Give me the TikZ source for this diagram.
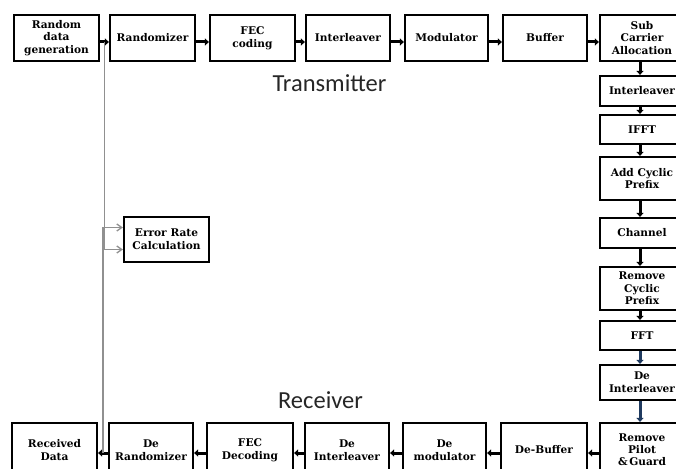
\documentclass[tikz,border=0pt]{standalone}
\usepackage{fontspec}
\setmainfont{DejaVu Serif}
\newfontfamily\labelfont{Carlito}
\usetikzlibrary{arrows.meta,calc}
\definecolor{navyarrow}{HTML}{1F3A5F}
\definecolor{grayline}{HTML}{909090}
\tikzset{
  blk/.style={draw=black, line width=2.2pt, fill=white, align=center, inner sep=1pt,
    font=\fontsize{10.6}{12.6}\selectfont\bfseries},
  flow/.style={line width=3pt, -{Triangle[length=4pt,width=7pt]}},
  navyflow/.style={flow, draw=navyarrow},
  errline/.style={draw=grayline, line width=1.3pt, -{Straight Barb[length=5pt,width=7pt]}},
  sectlabel/.style={font=\labelfont\fontsize{24.5}{26}\selectfont, text=black!85}
}
\newcommand{\bx}[6]{\node[blk, minimum width=#4pt, minimum height=#5pt] (#1) at (#2,#3) {#6};}
\begin{document}
\begin{tikzpicture}[x=1pt,y=-1pt]
\useasboundingbox (0,0) rectangle (676,468);
% top row
\bx{gen}{56.5}{38}{85}{46}{Random\\data\\generation}
\bx{rand}{152.5}{38}{85}{46}{Randomizer}
\bx{fec}{252.5}{38}{85}{46}{FEC\\coding}
\bx{intl}{348}{38}{84}{46}{Interleaver}
\bx{mod}{446.5}{38}{83}{46}{Modulator}
\bx{buf}{545}{38}{84}{46}{Buffer}
\bx{sca}{642}{38}{84}{46}{Sub\\Carrier\\Allocation}
% right column
\bx{intlb}{642}{91}{84}{30}{Interleaver}
\bx{ifft}{642}{129.5}{84}{29}{IFFT}
\bx{acp}{642}{178.5}{84}{43}{Add Cyclic\\Prefix}
\bx{chan}{642}{233}{84}{30}{Channel}
\bx{rcp}{642}{288.5}{84}{43}{Remove\\Cyclic\\Prefix}
\bx{fft}{642}{335.5}{84}{29}{FFT}
\bx{deint}{642}{382.5}{84}{35}{De\\Interleaver}
\node[blk, minimum width=84pt, minimum height=54pt, font=\fontsize{10.6}{11.8}\selectfont\bfseries] (rpg) at (642,450) {Remove\\Pilot\\\&\,Guard};
% bottom row
\bx{debuf}{544}{450}{86}{54}{De-Buffer}
\bx{demod}{444.5}{450}{83}{54}{De\\modulator}
\bx{deintb}{347}{450}{84}{54}{De\\Interleaver}
\bx{fecd}{250}{450}{86}{54}{FEC\\Decoding}
\bx{derand}{151}{450}{84}{54}{De\\Randomizer}
\bx{recv}{54.5}{450}{85}{54}{Received\\Data}
% error rate
\bx{err}{166.5}{239.5}{85}{45}{Error Rate\\Calculation}
% labels
\node[sectlabel] (tx) at (329.5,83) {Transmitter};
\node[sectlabel] (rx) at (320.5,400) {Receiver};
% top flow
\foreach \a/\b in {gen/rand,rand/fec,fec/intl,intl/mod,mod/buf,buf/sca}
  \draw[flow] ([yshift=-4pt]\a.east) -- ([yshift=-4pt]\b.west);
% right column
\foreach \a/\b in {sca/intlb,intlb/ifft,ifft/acp,acp/chan,chan/rcp,rcp/fft}
  \draw[flow] ([xshift=-2pt]\a.south) -- ([xshift=-2pt]\b.north);
\draw[navyflow] ([xshift=-2pt]fft.south) -- ([xshift=-2pt]deint.north);
\draw[navyflow] ([xshift=-2pt]deint.south) -- ([xshift=-2pt]rpg.north);
% bottom flow
\foreach \a/\b in {rpg/debuf,debuf/demod,demod/deintb,deintb/fecd,fecd/derand,derand/recv}
  \draw[flow] ([yshift=-3pt]\a.west) -- ([yshift=-3pt]\b.east);
% error rate lines
\coordinate (ttap) at ($([yshift=-4pt]gen.east)!0.5!([yshift=-4pt]rand.west)$);
\coordinate (btap) at ($([yshift=-3pt]recv.east)!0.5!([yshift=-3pt]derand.west)$);
\draw[errline] (ttap) |- ([yshift=-10pt]err.west);
\draw[errline] (btap) |- ([yshift=12pt]err.west);
\end{tikzpicture}
\end{document}
